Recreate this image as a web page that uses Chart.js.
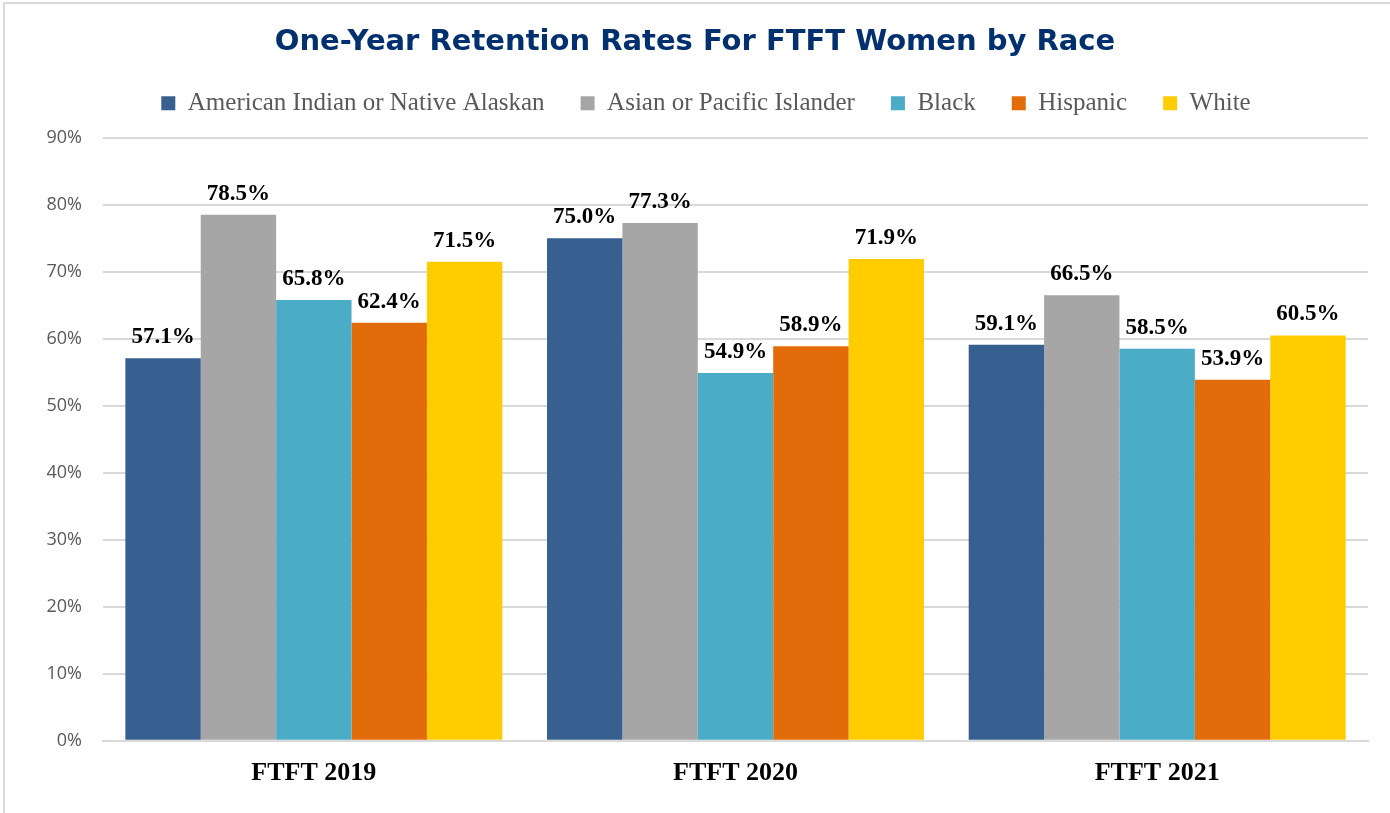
<!DOCTYPE html>
<html>
<head>
<meta charset="utf-8">
<script src="https://cdn.jsdelivr.net/npm/chart.js@4.4.0/dist/chart.umd.min.js"></script>
<style>
  html, body { margin: 0; padding: 0; background: #fff; }
  #frame { position: absolute; left: 3px; top: 2px; width: 1400px; height: 820px;
           border-left: 2px solid #d9d9d9; border-top: 2px solid #d9d9d9; }
  #wrap { position: absolute; left: 0; top: 0; width: 1390px; height: 813px; }
</style>
</head>
<body>
<div id="frame"></div>
<div id="wrap"><canvas id="retentionChart"></canvas></div>
<script>
// Categories and series (percent values)
const cohorts = ["FTFT 2019", "FTFT 2020", "FTFT 2021"];
const americanIndian = [57.1, 75.0, 59.1];
const asianPacific = [78.5, 77.3, 66.5];
const black = [65.8, 54.9, 58.5];
const hispanic = [62.4, 58.9, 53.9];
const white = [71.5, 71.9, 60.5];
const yTicks = [0, 10, 20, 30, 40, 50, 60, 70, 80, 90];

// Draws the value above each bar
const barLabels = {
    id: 'barLabels',
    afterDatasetsDraw(chart) {
        const ctx = chart.ctx;
        ctx.save();
        ctx.font = 'bold 23px "Liberation Serif", "Times New Roman", serif';
        ctx.fillStyle = '#000';
        ctx.textAlign = 'center';
        ctx.textBaseline = 'alphabetic';
        chart.data.datasets.forEach((ds, i) => {
            chart.getDatasetMeta(i).data.forEach((bar, j) => {
                ctx.fillText(ds.data[j].toFixed(1) + '%', bar.x, bar.y - 15);
            });
        });
        ctx.restore();
    }
};

// More room under the legend, and nudge it a little to the right
const legendTweak = {
    id: 'legendTweak',
    beforeLayout(chart) {
        const lg = chart.legend;
        if (lg && !lg._patched) {
            const fit = lg.fit;
            const draw = lg.draw;
            lg.fit = function () { fit.call(this); this.height += 12; };
            lg.draw = function () {
                this.ctx.save();
                this.ctx.translate(11, 0);
                draw.call(this);
                this.ctx.restore();
            };
            lg._patched = true;
        }
    }
};

const initRetentionChart = () => {
    const ctx = document.getElementById('retentionChart').getContext('2d');
    new Chart(ctx, {
        type: 'bar',
        data: {
            labels: cohorts,
            datasets: [
                { label: 'American Indian or Native Alaskan', data: americanIndian, backgroundColor: '#376091' },
                { label: 'Asian or Pacific Islander', data: asianPacific, backgroundColor: '#a6a6a6' },
                { label: 'Black', data: black, backgroundColor: '#4aacc6' },
                { label: 'Hispanic', data: hispanic, backgroundColor: '#e36c0a' },
                { label: 'White', data: white, backgroundColor: '#ffcc00' }
            ]
        },
        options: {
            responsive: true,
            maintainAspectRatio: false,
            animation: false,
            datasets: {
                bar: { categoryPercentage: 0.894, barPercentage: 1.0, borderWidth: 0 }
            },
            layout: { padding: { left: 0, right: 0, top: 0, bottom: 15 } },
            plugins: {
                title: {
                    display: true,
                    text: 'One-Year Retention Rates For FTFT Women by Race',
                    color: '#00306e',
                    font: { family: '"DejaVu Sans", Verdana, sans-serif', size: 29, weight: 'bold' },
                    padding: { top: 25, bottom: -5 }
                },
                legend: {
                    position: 'top',
                    labels: {
                        boxWidth: 14,
                        boxHeight: 14,
                        padding: 36,
                        color: '#595959',
                        font: { family: '"Liberation Serif", "Times New Roman", serif', size: 25 }
                    }
                },
                tooltip: { enabled: false }
            },
            scales: {
                x: {
                    grid: { display: false },
                    border: { color: '#d9d9d9', width: 2 },
                    ticks: {
                        color: '#000',
                        padding: 9,
                        font: { family: '"Liberation Serif", "Times New Roman", serif', size: 26, weight: 'bold' }
                    }
                },
                y: {
                    min: 0,
                    max: 90,
                    afterBuildTicks: (scale) => { scale.ticks = yTicks.map(v => ({ value: v })); },
                    afterFit: (scale) => { scale.width = 103; },
                    grid: { color: '#d9d9d9', lineWidth: 2, drawTicks: false },
                    border: { display: false },
                    ticks: {
                        color: '#595959',
                        padding: 21,
                        font: { family: '"Open Sans", sans-serif', size: 18 },
                        callback: (v) => v + '%'
                    }
                },
                // empty right margin so the title and legend centre on the full width
                yRight: {
                    position: 'right',
                    min: 0,
                    max: 90,
                    afterFit: (scale) => { scale.width = 22; },
                    grid: { display: false },
                    border: { display: false },
                    ticks: { display: false }
                }
            }
        },
        plugins: [barLabels, legendTweak]
    });
};

document.addEventListener('DOMContentLoaded', initRetentionChart);
</script>
</body>
</html>
